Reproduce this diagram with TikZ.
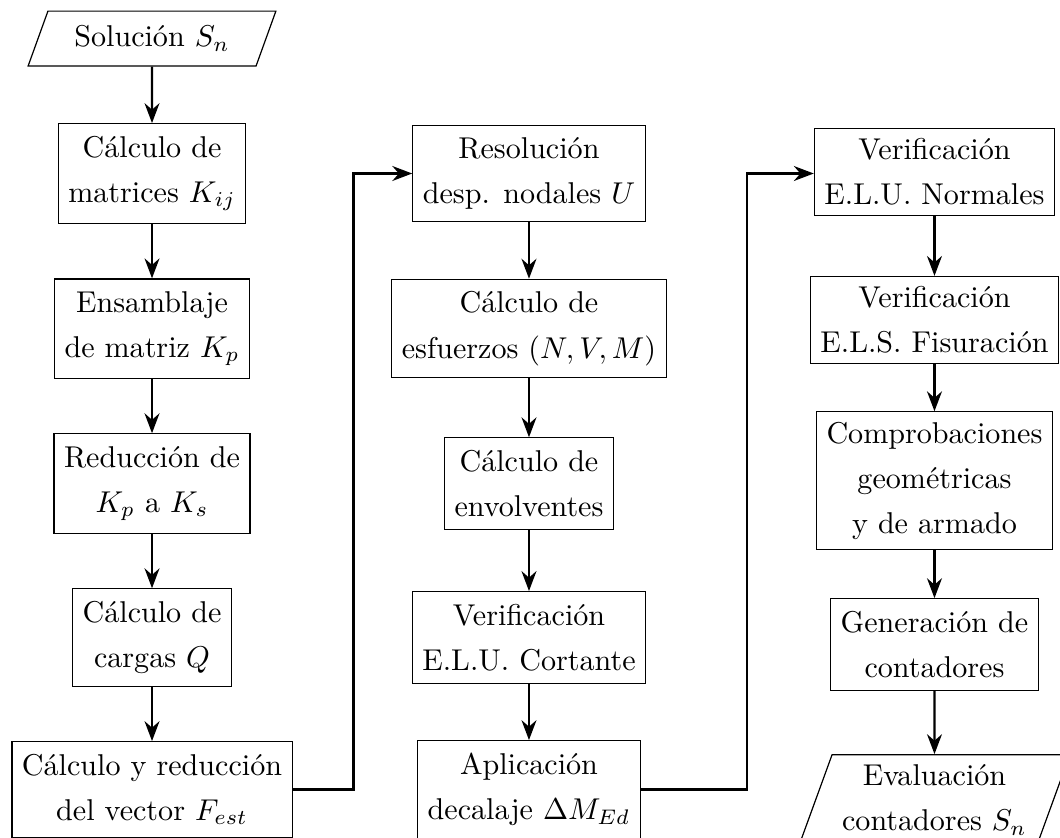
\documentclass[tikz,border=0pt]{standalone}
\usepackage{tikz}
\usetikzlibrary{shapes.geometric,arrows.meta,positioning}
\linespread{1.25}

\begin{document}
\begin{tikzpicture}[
    node distance=0.635cm and 1cm,
    >=Stealth,
    block/.style={rectangle, draw, align=center, inner ysep=4.1pt},
    check/.style={block, inner ysep=3.33pt},
    io/.style={trapezium, draw, align=center,
        trapezium left angle=70, trapezium right angle=110,
        trapezium stretches=true},
    arr/.style={->, thick}
]
    \useasboundingbox (0,0) rectangle (12.378,-9.774);

    % Column 1: stiffness and loads
    \node[io, minimum width=2.9cm, minimum height=0.64cm] (sol) at (1.775,-0.45) {Solución $S_n$};
    \node[block, below=0.66cm of sol] (kij) {Cálculo de\\matrices $K_{ij}$};
    \node[block, below=of kij] (kp) {Ensamblaje\\de matriz $K_p$};
    \node[block, below=of kp] (ks) {Reducción de\\$K_p$ a $K_s$};
    \node[block, below=of ks] (q) {Cálculo de\\cargas $Q$};
    \node[block, below=of q] (fest) {Cálculo y reducción\\del vector $F_{est}$};

    % Column 2: analysis
    \node[block] (res) at ([xshift=4.402cm]kij) {Resolución\\desp. nodales $U$};
    \node[block] (esf) at ([xshift=4.402cm]kp) {Cálculo de\\esfuerzos $(N,V,M)$};
    \node[block] (env) at ([xshift=4.402cm]ks) {Cálculo de\\envolventes};
    \node[block] (cort) at ([xshift=4.402cm]q) {Verificación\\E.L.U. Cortante};
    \node[block] (apl) at ([xshift=4.402cm]fest) {Aplicación\\decalaje $\Delta M_{Ed}$};

    % Column 3: checks
    \node[check] (norm) at ([xshift=4.735cm, yshift=0.02cm]res) {Verificación\\E.L.U. Normales};
    \node[check, below=0.70cm of norm] (fis) {Verificación\\E.L.S. Fisuración};
    \node[check, below=0.55cm of fis] (comp) {Comprobaciones\\geométricas\\y de armado};
    \node[block, below=0.56cm of comp] (gen) {Generación de\\contadores};
    \node[io, minimum width=3.0cm, below=0.74cm of gen] (eval) {Evaluación\\contadores $S_n$};

    % Arrows
    \draw[arr] (sol) -- (kij);
    \draw[arr] (kij) -- (kp);
    \draw[arr] (kp) -- (ks);
    \draw[arr] (ks) -- (q);
    \draw[arr] (q) -- (fest);
    \draw[arr] (fest.east) -- ++(0.71,0) |- (res.west);
    \draw[arr] (res) -- (esf);
    \draw[arr] (esf) -- (env);
    \draw[arr] (env) -- (cort);
    \draw[arr] (cort) -- (apl);
    \draw[arr] (apl.east) -- ++(1.24,0) |- (res.east -| norm.west);
    \draw[arr] (norm) -- (fis);
    \draw[arr] (fis) -- (comp);
    \draw[arr] (comp) -- (gen);
    \draw[arr] (gen) -- (eval);

\end{tikzpicture}
\end{document}
